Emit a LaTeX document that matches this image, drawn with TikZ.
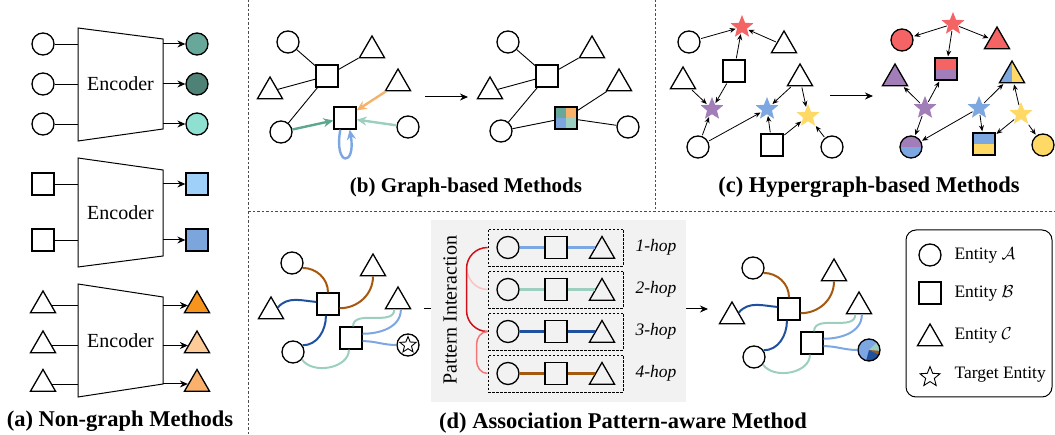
\documentclass[tikz,border=0pt]{standalone}
\usepackage{fontspec}
\setmainfont{Liberation Serif}
\usetikzlibrary{shapes.geometric,arrows.meta}

\definecolor{encA}{HTML}{68A89A}
\definecolor{encB}{HTML}{4F8276}
\definecolor{encC}{HTML}{8EE0D0}
\definecolor{encD}{HTML}{9FD0FA}
\definecolor{encE}{HTML}{7CA5DE}
\definecolor{encF}{HTML}{F7941E}
\definecolor{encG}{HTML}{FDCB97}
\definecolor{encH}{HTML}{FBB16B}
\definecolor{msgOrange}{HTML}{F6B26B}
\definecolor{msgGreen}{HTML}{5FA68F}
\definecolor{msgLight}{HTML}{9DCFC1}
\definecolor{msgBlue}{HTML}{7DA7E3}
\definecolor{hRed}{HTML}{F56464}
\definecolor{hPurple}{HTML}{A27EB8}
\definecolor{hBlue}{HTML}{7DA7E0}
\definecolor{hYellow}{HTML}{FFD966}
\definecolor{pBrown}{HTML}{A5580F}
\definecolor{pDark}{HTML}{1F519E}
\definecolor{pGreen}{HTML}{9DCFC1}
\definecolor{pBlue}{HTML}{7DA7E3}
\definecolor{brRed}{HTML}{D0101A}
\definecolor{brPink}{HTML}{F9C3C3}
\definecolor{brLight}{HTML}{F57676}
\definecolor{panelGray}{HTML}{F2F2F2}

\tikzset{
  ent/.style={circle,draw,line width=1.3pt,minimum size=22pt,inner sep=0pt},
  blk/.style={rectangle,draw,line width=1.3pt,minimum size=22pt,inner sep=0pt},
  tri/.style={regular polygon,regular polygon sides=3,draw,line width=1.3pt,minimum size=29pt,inner sep=0pt},
  hub/.style={star,star points=5,star point ratio=2.3,minimum size=24pt,inner sep=0pt},
  splitv/.style 2 args={path picture={
    \fill[#1] (path picture bounding box.north west) rectangle (path picture bounding box.east);
    \fill[#2] (path picture bounding box.west) rectangle (path picture bounding box.south east);}},
  splith/.style 2 args={path picture={
    \fill[#1] (path picture bounding box.north west) rectangle (path picture bounding box.south);
    \fill[#2] (path picture bounding box.north) rectangle (path picture bounding box.south east);}},
  target/.style={ent},
  mixed/.style={ent,fill=pBlue,path picture={
    \fill[pGreen] (path picture bounding box.center) -- ++(-5:12pt) arc[start angle=-5,end angle=45,radius=12pt] -- cycle;
    \fill[pBrown] (path picture bounding box.center) -- ++(-25:12pt) arc[start angle=-25,end angle=-5,radius=12pt] -- cycle;
    \fill[pDark] (path picture bounding box.center) -- ++(-105:12pt) arc[start angle=-105,end angle=-25,radius=12pt] -- cycle;}},
  link/.style={line width=0.9pt},
  encarrow/.style={line width=1pt,-{Stealth[length=8pt,width=7pt]}},
  msg/.style={line width=2.4pt,-{Stealth[length=10pt,width=9pt]}},
  hyper/.style={line width=0.8pt,-{Stealth[length=6pt,width=5pt]},shorten >=1pt,shorten <=1pt},
  wire/.style={line width=2pt},
  sepline/.style={line width=0.8pt,black!70,dash pattern=on 2.5pt off 2pt},
  subcap/.style={font=\fontsize{22.5}{24}\selectfont\bfseries},
  legtext/.style={anchor=west,font=\fontsize{17.5}{18}\selectfont},
}

\begin{document}
\begin{tikzpicture}[x=1pt,y=-1pt]
    \useasboundingbox (0,0) rectangle (1055,435);

    \draw[sepline] (248,0) -- (248,435);
    \draw[sepline] (248,211) -- (1055,211);
    \draw[sepline] (655,0) -- (655,211);

    % (a)
    \draw[line width=1pt] (78,28) -- (163,39) -- (163,129) -- (78,141) -- cycle;
    \draw[line width=1pt] (78,158) -- (163,170) -- (163,256) -- (78,267) -- cycle;
    \draw[line width=1pt] (78,284) -- (163,297) -- (163,384) -- (78,397) -- cycle;
    \node[font=\fontsize{20}{20}\selectfont] (enc1) at (120.5,84) {Encoder};
    \node[font=\fontsize{20}{20}\selectfont] (enc2) at (120.5,213) {Encoder};
    \node[font=\fontsize{20}{20}\selectfont] (enc3) at (120.5,341) {Encoder};
    \coordinate (encin) at (78,0);
    \coordinate (encout) at (163,0);

    \foreach \y/\c [count=\i] in {44/encA,84/encB,124/encC}{
        \node[ent] (ain\i) at (43,\y) {};
        \node[ent,fill=\c] (aout\i) at (197,\y) {};
        \draw[link] (ain\i) -- (ain\i -| encin);
        \draw[encarrow] (aout\i -| encout) -- (aout\i);
    }
    \foreach \y/\c [count=\i] in {184/encD,240/encE}{
        \node[blk] (bin\i) at (43,\y) {};
        \node[blk,fill=\c] (bout\i) at (197,\y) {};
        \draw[link] (bin\i) -- (bin\i -| encin);
        \draw[encarrow] (bout\i -| encout) -- (bout\i);
    }
    \foreach \y/\c [count=\i] in {305.5/encF,345.5/encG,384/encH}{
        \node[tri] (cin\i) at (43,\y) {};
        \node[tri,fill=\c] (cout\i) at (197,\y) {};
        \draw[link] (cin\i) -- (cin\i -| encin);
        \draw[encarrow] (cout\i -| encout) -- (cout\i);
    }
    \node[subcap] (capa) at (120,421) {(a) Non-graph Methods};

    % (b)
    \node[ent] (bc1) at (288,42) {};
    \node[blk] (bs1) at (327,76) {};
    \node[tri] (bt1) at (372,50.5) {};
    \node[tri] (bt2) at (270,91.5) {};
    \node[tri] (bt3) at (398,83.5) {};
    \node[blk] (bs2) at (345,118) {};
    \node[ent] (bc2) at (281,132) {};
    \node[ent] (bc3) at (408,127) {};
    \draw[link] (bc1) -- (bs1);
    \draw[link] (bt1) -- (bs1);
    \draw[link] (bt2) -- (bs1);
    \draw[link] (bs1) -- (bc2);
    \draw[msg,msgOrange] (bt3) -- (bs2);
    \draw[msg,msgGreen] (bc2) -- (bs2);
    \draw[msg,msgLight] (bc3) -- (bs2);
    \draw[msg,msgBlue] (bs2.-112) .. controls +(-100:38pt) and +(-80:38pt) .. (bs2.-68);

    \coordinate (bgo) at (425,97);
    \coordinate (bend) at (468,97);
    \draw[encarrow] (bgo) -- (bend);

    \node[ent] (qc1) at (508,42) {};
    \node[blk] (qs1) at (547,76) {};
    \node[tri] (qt1) at (592,50.5) {};
    \node[tri] (qt2) at (490,91.5) {};
    \node[tri] (qt3) at (619,83.5) {};
    \node[blk,path picture={
        \fill[encA] (path picture bounding box.north west) rectangle (path picture bounding box.center);
        \fill[msgOrange] (path picture bounding box.north east) rectangle (path picture bounding box.center);
        \fill[encE] (path picture bounding box.south west) rectangle (path picture bounding box.center);
        \fill[msgLight] (path picture bounding box.south east) rectangle (path picture bounding box.center);
    }] (qs2) at (566,118) {};
    \node[ent] (qc2) at (501,131) {};
    \node[ent] (qc3) at (628,127) {};
    \draw[link] (qc1) -- (qs1);
    \draw[link] (qt1) -- (qs1);
    \draw[link] (qt2) -- (qs1);
    \draw[link] (qs1) -- (qc2);
    \draw[link] (qc2) -- (qs2);
    \draw[link] (qt3) -- (qs2);
    \draw[link] (qs2) -- (qc3);
    \node[subcap,font=\fontsize{21}{22}\selectfont\bfseries] (capb) at (466,187) {(b) Graph-based Methods};

    % (c)
    \node[ent] (hc1) at (689,42) {};
    \node[hub,fill=hRed] (hsR) at (742,27) {};
    \node[tri] (ht1) at (784,45.5) {};
    \node[blk] (hs1) at (734,71) {};
    \node[tri] (ht2) at (683,81.5) {};
    \node[tri] (ht3) at (800,78.5) {};
    \node[hub,fill=hPurple] (hsP) at (712,109) {};
    \node[hub,fill=hBlue] (hsB) at (767,109) {};
    \node[hub,fill=hYellow] (hsY) at (808,116) {};
    \node[ent] (hc2) at (698,147) {};
    \node[blk] (hs2) at (772,145) {};
    \node[ent] (hc3) at (832,147) {};
    \draw[hyper] (hc1) -- (hsR);
    \draw[hyper] (ht1) -- (hsR);
    \draw[hyper] (hs1) -- (hsR);
    \draw[hyper] (ht2) -- (hsP);
    \draw[hyper] (hs1) -- (hsP);
    \draw[hyper] (hc2) -- (hsP);
    \draw[hyper] (hc2) -- (hsB);
    \draw[hyper] (ht3) -- (hsB);
    \draw[hyper] (ht3) -- (hsY);
    \draw[hyper] (hs2) -- (hsB);
    \draw[hyper] (hs2) -- (hsY);
    \draw[hyper] (hc3) -- (hsY);

    \coordinate (cgo) at (830,96);
    \coordinate (cend) at (873,96);
    \draw[encarrow] (cgo) -- (cend);

    \node[hub,fill=hRed] (rsR) at (953,24) {};
    \node[ent,fill=hRed] (rc1) at (902,40) {};
    \node[tri,fill=hRed] (rt1) at (997,41.5) {};
    \node[blk,splitv={hRed}{hPurple}] (rs1) at (946,69) {};
    \node[tri,fill=hPurple] (rt2) at (895,78.5) {};
    \node[tri,splith={hBlue}{hYellow}] (rt3) at (1012,75.5) {};
    \node[hub,fill=hPurple] (rsP) at (925,108) {};
    \node[hub,fill=hBlue] (rsB) at (979,108) {};
    \node[hub,fill=hYellow] (rsY) at (1021,114) {};
    \node[ent,splitv={hPurple}{hBlue}] (rc2) at (911,147) {};
    \node[blk,splitv={hBlue}{hYellow}] (rs2) at (984,144) {};
    \node[ent,fill=hYellow] (rc3) at (1043,145) {};
    \draw[hyper] (rsR) -- (rc1);
    \draw[hyper] (rsR) -- (rt1);
    \draw[hyper] (rsR) -- (rs1);
    \draw[hyper] (rsP) -- (rt2);
    \draw[hyper] (rsP) -- (rs1);
    \draw[hyper] (rsP) -- (rc2);
    \draw[hyper] (rsB) -- (rc2);
    \draw[hyper] (rsB) -- (rt3);
    \draw[hyper] (rsB) -- (rs2);
    \draw[hyper] (rsY) -- (rt3);
    \draw[hyper] (rsY) -- (rs2);
    \draw[hyper] (rsY) -- (rc3);
    \node[subcap] (capc) at (869,187) {(c) Hypergraph-based Methods};

    % (d)
    \foreach \p/\dx/\dy/\tg in {dl/0/0/target,dr/461/5/mixed}{
        \begin{scope}[shift={(\dx,\dy)}]
            \node[ent] (\p c1) at (292,263) {};
            \node[tri] (\p t1) at (373,268.5) {};
            \node[tri] (\p t2) at (271,311.5) {};
            \node[blk] (\p s1) at (328,304) {};
            \node[tri] (\p t3) at (398,301.5) {};
            \node[blk] (\p s2) at (351,338) {};
            \node[ent] (\p c2) at (293,352) {};
            \node[\tg] (\p tg) at (408,345) {};
            \draw[wire,pBrown] (\p c1.-25) to[out=0,in=90] (\p s1.north);
            \draw[wire,pBrown] (\p s1.-20) to[out=0,in=-90] (\p t1.south);
            \draw[wire,pDark] (\p t2.30) to[out=50,in=175] (\p s1.170);
            \draw[wire,pDark] (\p s1.-100) to[out=-90,in=0] (\p c2.35);
            \draw[wire,pGreen] (\p c2.-40) to[out=-55,in=-90] (\p s2.-100);
            \draw[wire,pGreen] (\p s2.80) to[out=90,in=-90] (\p t3.-115);
            \draw[wire,pBlue] (\p s2.20) to[out=0,in=-90] (\p t3.-70);
            \draw[wire,pBlue] (\p s2.-15) to[out=0,in=180] (\p tg.west);
        \end{scope}
    }
    \node[hub,draw,line width=0.9pt,minimum size=17pt] (dlstar) at (dltg) {};

    \coordinate (dgo) at (424,309);
    \coordinate (dend) at (447,309);
    \draw[encarrow] (dgo) -- (dend);
    \fill[panelGray] (431,220) rectangle (686,402);
    \node[rotate=90,font=\fontsize{20}{20}\selectfont] (pint) at (450,310) {Pattern Interaction};

    \foreach \y/\c/\lw [count=\i] in {247.5/pBlue/2.2pt,289.5/pGreen/2.2pt,331.5/pDark/2.4pt,373.5/pBrown/2.4pt}{
        \node[draw,line width=0.9pt,dash pattern=on 2.5pt off 1.5pt,minimum width=135pt,minimum height=37pt] (dh\i) at (555.5,\y) {};
        \node[ent] (pc\i) at (508,\y) {};
        \node[blk] (ps\i) at (556,\y) {};
        \node[tri] (pt\i) at (602,\y+3.5) {};
        \draw[line width=\lw,\c] (pc\i) -- (ps\i);
        \draw[line width=\lw,\c,shorten >=-2pt] (ps\i.east) -- (ps\i.east -| pt\i.west);
        \node[anchor=west,font=\fontsize{17.5}{18}\selectfont\itshape] (hop\i) at (632,\y) {\i-hop};
    }

    \coordinate (pmeet) at (467,268);
    \draw[line width=1.5pt,brPink] (dh2.west) to[out=180,in=-90] (pmeet);
    \draw[line width=1.5pt,brRed] (dh1.west) to[out=180,in=90] ++(-21,21) -- ++(0,42) to[out=-90,in=180] (dh3.west);
    \draw[line width=1.5pt,brLight] (dh3.west) to[out=180,in=90] ++(-11,13) -- ++(0,16) to[out=-90,in=180] (dh4.west);

    \coordinate (ego) at (686,309);
    \coordinate (eend) at (708,309);
    \draw[encarrow] (ego) -- (eend);

    \draw[line width=1pt,rounded corners=10pt] (906,230) rectangle (1052,397);
    \node[ent] (lgc) at (930,255) {};
    \node[blk] (lgs) at (930,293) {};
    \node[tri] (lgt) at (930,338.5) {};
    \node[hub,draw,line width=0.9pt,minimum size=21pt] (lgst) at (930,377) {};
    \node[legtext] (lga) at (951,255) {Entity $\mathcal{A}$};
    \node[legtext] (lgb) at (951,293) {Entity $\mathcal{B}$};
    \node[legtext] (lgcc) at (951,335) {Entity $\mathcal{C}$};
    \node[legtext] (lgd) at (951,375) {Target Entity};

    \node[subcap] (capd) at (623,423) {(d) Association Pattern-aware Method};
\end{tikzpicture}
\end{document}
